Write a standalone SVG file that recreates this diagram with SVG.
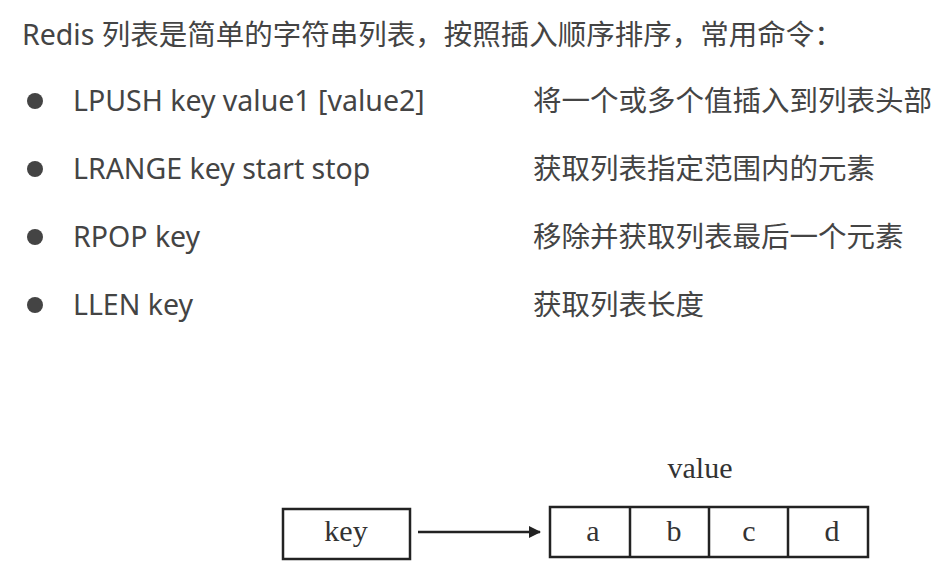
<svg xmlns="http://www.w3.org/2000/svg" width="938" height="570" viewBox="0 0 938 570">
<style>
.t{font-family:"Noto Sans","Noto Sans CJK SC",sans-serif;font-size:28.5px;fill:#444}
.s{font-family:"Liberation Serif",serif;font-size:30px;fill:#333;text-anchor:middle}
.b{fill:#fff;stroke:#222;stroke-width:2.5}
</style>
<defs><marker id="ar" markerWidth="12" markerHeight="12" refX="11" refY="6" orient="auto" markerUnits="userSpaceOnUse"><path d="M0,0L12,6L0,12z" fill="#222"/></marker></defs>
<rect width="938" height="570" fill="#fff"/>
<text class="t" x="22" y="45">Redis 列表是简单的字符串列表，按照插入顺序排序，常用命令：</text>
<g fill="#444"><circle cx="35" cy="101" r="8"/><circle cx="35" cy="169" r="8"/><circle cx="35" cy="237" r="8"/><circle cx="35" cy="305" r="8"/></g>
<text class="t" x="73" y="111">LPUSH key value1 [value2]</text>
<text class="t" x="533" y="111">将一个或多个值插入到列表头部</text>
<text class="t" x="73" y="179">LRANGE key start stop</text>
<text class="t" x="533" y="179">获取列表指定范围内的元素</text>
<text class="t" x="73" y="247">RPOP key</text>
<text class="t" x="533" y="247">移除并获取列表最后一个元素</text>
<text class="t" x="73" y="315">LLEN key</text>
<text class="t" x="533" y="315">获取列表长度</text>
<g id="key"><rect class="b" x="283" y="509" width="127" height="50"/><text class="s" x="346" y="541">key</text></g>
<g id="value"><text class="s" x="700" y="478">value</text>
<rect class="b" x="550" y="507" width="318" height="50"/>
<line x1="630" y1="507" x2="630" y2="557" stroke="#222" stroke-width="2.5"/>
<line x1="709" y1="507" x2="709" y2="557" stroke="#222" stroke-width="2.5"/>
<line x1="788" y1="507" x2="788" y2="557" stroke="#222" stroke-width="2.5"/>
<text class="s" x="593" y="541">a</text><text class="s" x="674" y="541">b</text><text class="s" x="749" y="541">c</text><text class="s" x="832" y="541">d</text></g>
<g id="connectors"><line x1="418" y1="532" x2="540" y2="532" stroke="#222" stroke-width="2.5" marker-end="url(#ar)"/></g>
</svg>
